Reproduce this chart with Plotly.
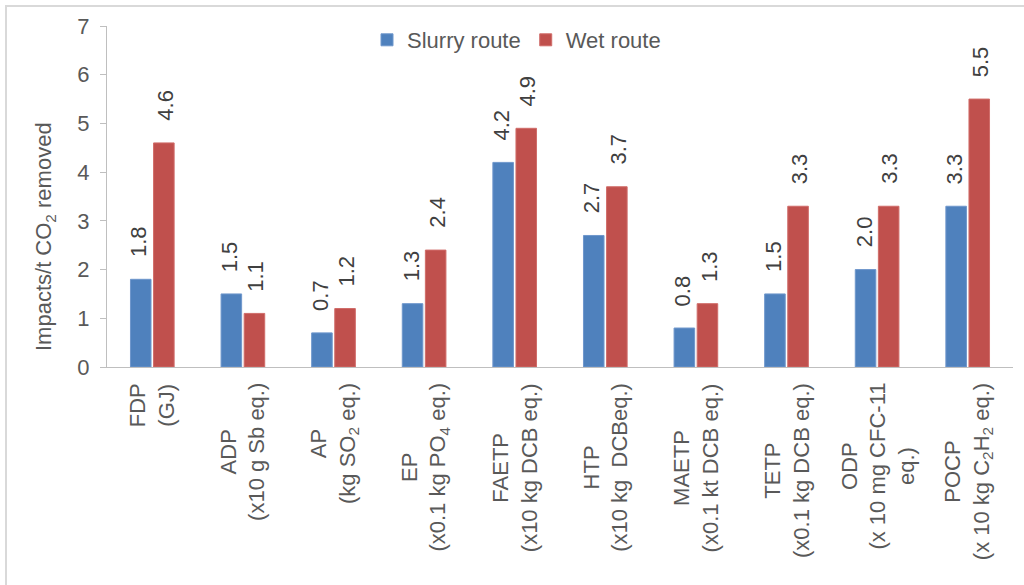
import plotly.graph_objects as go

# Impact categories (bar groups) and their rotated axis labels
categories = ["FDP", "ADP", "AP", "EP", "FAETP", "HTP", "MAETP", "TETP", "ODP", "POCP"]
category_labels = [
    "FDP<br>(GJ)",
    "ADP<br>(x10 g Sb eq.)",
    "AP<br>(kg SO<sub>2</sub> eq.)",
    "EP<br>(x0.1 kg PO<sub>4</sub> eq.)",
    "FAETP<br>(x10 kg DCB eq.)",
    "HTP<br>(x10 kg\u00a0\u00a0DCBeq.)",
    "MAETP<br>(x0.1 kt DCB eq.)",
    "TETP<br>(x0.1 kg DCB eq.)",
    "ODP<br>(x 10 mg CFC-11<br>eq.)",
    "POCP<br>(x 10 kg C<sub>2</sub>H<sub>2</sub> eq.)",
]

# Impacts per tonne of CO2 removed
slurry_route = [1.8, 1.5, 0.7, 1.3, 4.2, 2.7, 0.8, 1.5, 2.0, 3.3]
wet_route = [4.6, 1.1, 1.2, 2.4, 4.9, 3.7, 1.3, 3.3, 3.3, 5.5]

y_ticks = [0, 1, 2, 3, 4, 5, 6, 7]

BLUE = "#4F81BD"
RED = "#C0504D"
TEXT = "#595959"
LABEL = "#404040"
AXIS = "#BFBFBF"
FONT = "Liberation Sans, Arial, sans-serif"

W, H = 1024, 585
ML, MR, MT, MB = 107, 11, 26, 218
PW, PH = W - ML - MR, H - MT - MB

fig = go.Figure()
fig.add_trace(go.Bar(name="Slurry route", x=categories, y=slurry_route,
                     marker=dict(color=BLUE, line=dict(width=1, color="#6F97CC"))))
fig.add_trace(go.Bar(name="Wet route", x=categories, y=wet_route,
                     marker=dict(color=RED, line=dict(width=1, color="#D06C69"))))

annotations = []
# value labels above each bar, rotated
for series, shift in ((slurry_route, -13), (wet_route, 13)):
    for cat, v in zip(categories, series):
        annotations.append(dict(
            x=cat, y=v, xref="x", yref="y", xshift=shift, yshift=20,
            text=f"{v:.1f}", textangle=-90, showarrow=False,
            xanchor="center", yanchor="bottom",
            font=dict(family=FONT, size=22, color=LABEL)))

# category labels below the axis, centred multi-line
for cat, lab in zip(categories, category_labels):
    annotations.append(dict(
        x=cat, y=0, xref="x", yref="y", yshift=-14,
        text=lab, textangle=-90, showarrow=False, align="center",
        xanchor="center", yanchor="top",
        font=dict(family=FONT, size=22, color=TEXT)))

# y-axis title
annotations.append(dict(
    x=(45 - ML) / PW, y=(MT + PH - 237) / PH, xref="paper", yref="paper",
    text="Impacts/t CO<sub>2</sub> removed", textangle=-90, showarrow=False,
    xanchor="center", yanchor="middle",
    font=dict(family=FONT, size=22, color=TEXT)))

fig.update_layout(
    width=W, height=H,
    margin=dict(l=ML, r=MR, t=MT, b=MB, pad=0),
    paper_bgcolor="white", plot_bgcolor="white",
    barmode="group", bargap=0.49, bargroupgap=0.11,
    font=dict(family=FONT, size=22, color=TEXT),
    showlegend=True,
    legend=dict(orientation="h", x=0.452, y=(MT + PH - 40) / PH,
                xanchor="center", yanchor="middle",
                font=dict(family=FONT, size=22, color=TEXT),
                bgcolor="rgba(0,0,0,0)", itemwidth=30, tracegroupgap=0),
    xaxis=dict(showticklabels=False, showline=True, linecolor=AXIS, linewidth=1,
               ticks="", showgrid=False, zeroline=False),
    yaxis=dict(range=[0, 7], tickvals=y_ticks, showline=True, linecolor=AXIS,
               linewidth=1, ticks="outside", ticklen=6, tickcolor=AXIS,
               showgrid=False, zeroline=False, ticklabelstandoff=6,
               tickfont=dict(family=FONT, size=22, color=TEXT)),
    annotations=annotations,
    shapes=[dict(type="rect", xref="paper", yref="paper",
                 x0=(6 - ML) / PW, x1=(W + 20 - ML) / PW,
                 y0=(MT + PH - (H + 20)) / PH, y1=(MT + PH - 6) / PH,
                 line=dict(color="#D9D9D9", width=2), fillcolor="rgba(0,0,0,0)",
                 layer="below")],
)

fig.write_html("out.html")
